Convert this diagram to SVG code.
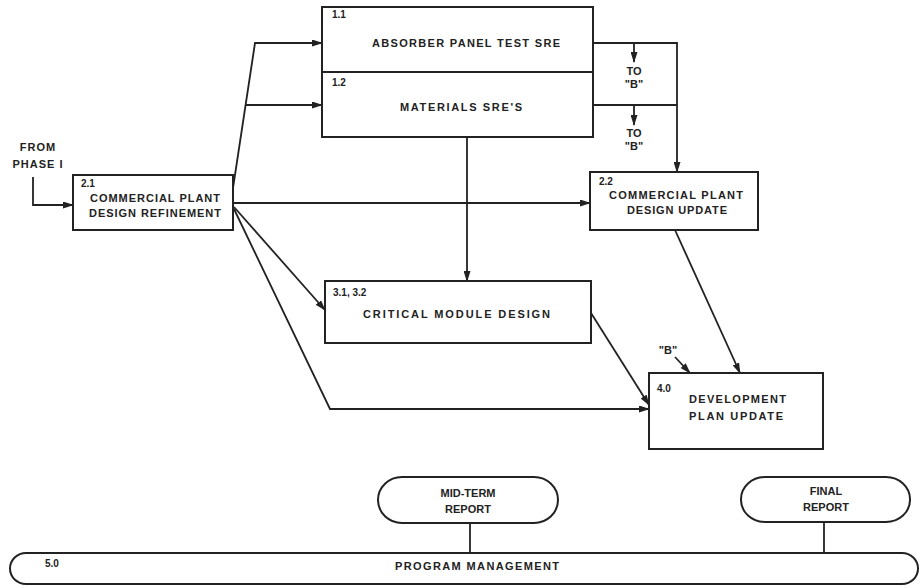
<svg xmlns="http://www.w3.org/2000/svg" width="921" height="586" viewBox="0 0 921 586">
<defs>
<marker id="ah" markerUnits="userSpaceOnUse" markerWidth="11" markerHeight="7" refX="10" refY="3.5" orient="auto">
<path d="M0,0 L11,3.5 L0,7 z" fill="#222"/>
</marker>
<style>
.box{fill:#fff;stroke:#222;stroke-width:2}
.ln{fill:none;stroke:#222;stroke-width:1.8}
.t{font-family:"Liberation Sans","DejaVu Sans",sans-serif;font-weight:bold;font-size:11px;fill:#222}
.n{font-family:"Liberation Sans","DejaVu Sans",sans-serif;font-weight:bold;font-size:10px;fill:#222}
.c{text-anchor:middle}
.ls{letter-spacing:1px}
</style>
</defs>
<rect width="921" height="586" fill="#fff"/>

<g id="connectors">
<path class="ln" d="M33,177 V205 H73" marker-end="url(#ah)"/>
<path class="ln" d="M233,188 L255,43 H322" marker-end="url(#ah)"/>
<path class="ln" d="M246,105 H322" marker-end="url(#ah)"/>
<path class="ln" d="M233,203 H590" marker-end="url(#ah)"/>
<path class="ln" d="M234,207 L325,310" marker-end="url(#ah)"/>
<path class="ln" d="M234,209 L330,409 H649" marker-end="url(#ah)"/>
<path class="ln" d="M467,137 V281" marker-end="url(#ah)"/>
<path class="ln" d="M593,43 H677 V172" marker-end="url(#ah)"/>
<path class="ln" d="M593,105 H677"/>
<path class="ln" d="M634,43 V62" marker-end="url(#ah)"/>
<path class="ln" d="M634,105 V125" marker-end="url(#ah)"/>
<path class="ln" d="M591,313 L649,405" marker-end="url(#ah)"/>
<path class="ln" d="M675,230 L740,373" marker-end="url(#ah)"/>
<path class="ln" d="M675,357 L690,373" marker-end="url(#ah)"/>
<path class="ln" d="M470,523 V553"/>
<path class="ln" d="M824,522 V553"/>
</g>

<g id="labels">
<text class="t c ls" x="38" y="151">FROM</text>
<text class="t c ls" x="38" y="168">PHASE I</text>
<text class="t c" x="634" y="75">TO</text>
<text class="t c" x="634" y="88">"B"</text>
<text class="t c" x="634" y="137">TO</text>
<text class="t c" x="634" y="150">"B"</text>
<text class="t c" x="668" y="354">"B"</text>
</g>

<g id="n1-1">
<rect class="box" x="322" y="7" width="271" height="65"/>
<text class="n" x="332" y="18">1.1</text>
<text class="t" x="372" y="47" textLength="188" lengthAdjust="spacing">ABSORBER PANEL TEST SRE</text>
</g>
<g id="n1-2">
<rect class="box" x="322" y="72" width="271" height="65"/>
<text class="n" x="332" y="86">1.2</text>
<text class="t" x="400" y="111" textLength="122" lengthAdjust="spacing">MATERIALS SRE'S</text>
</g>
<g id="n2-1">
<rect class="box" x="73" y="175" width="160" height="55"/>
<text class="n" x="81" y="187">2.1</text>
<text class="t" x="90" y="202" textLength="130" lengthAdjust="spacing">COMMERCIAL PLANT</text>
<text class="t" x="89" y="217" textLength="132" lengthAdjust="spacing">DESIGN REFINEMENT</text>
</g>
<g id="n2-2">
<rect class="box" x="590" y="172" width="168" height="58"/>
<text class="n" x="599" y="185">2.2</text>
<text class="t" x="609" y="199" textLength="134" lengthAdjust="spacing">COMMERCIAL PLANT</text>
<text class="t" x="627" y="214" textLength="100" lengthAdjust="spacing">DESIGN UPDATE</text>
</g>
<g id="n3">
<rect class="box" x="325" y="281" width="266" height="62"/>
<text class="n" x="333" y="296">3.1, 3.2</text>
<text class="t" x="363" y="318" textLength="187" lengthAdjust="spacing">CRITICAL MODULE DESIGN</text>
</g>
<g id="n4">
<rect class="box" x="649" y="373" width="174" height="76"/>
<text class="n" x="657" y="392">4.0</text>
<text class="t" x="689" y="403" textLength="97" lengthAdjust="spacing">DEVELOPMENT</text>
<text class="t" x="689" y="420" textLength="94" lengthAdjust="spacing">PLAN UPDATE</text>
</g>
<g id="midterm">
<rect class="box" x="378" y="477" width="180" height="46" rx="24" ry="23"/>
<text class="t c" x="468" y="497">MID-TERM</text>
<text class="t c" x="468" y="513">REPORT</text>
</g>
<g id="final">
<rect class="box" x="741" y="477" width="169" height="45" rx="24" ry="22"/>
<text class="t c" x="826" y="495">FINAL</text>
<text class="t c" x="826" y="511">REPORT</text>
</g>
<g id="n5">
<rect class="box" x="10" y="553" width="908" height="31" rx="16" ry="15.5"/>
<text class="n" x="45" y="567">5.0</text>
<text class="t" x="395" y="570" textLength="164" lengthAdjust="spacing">PROGRAM MANAGEMENT</text>
</g>
</svg>
